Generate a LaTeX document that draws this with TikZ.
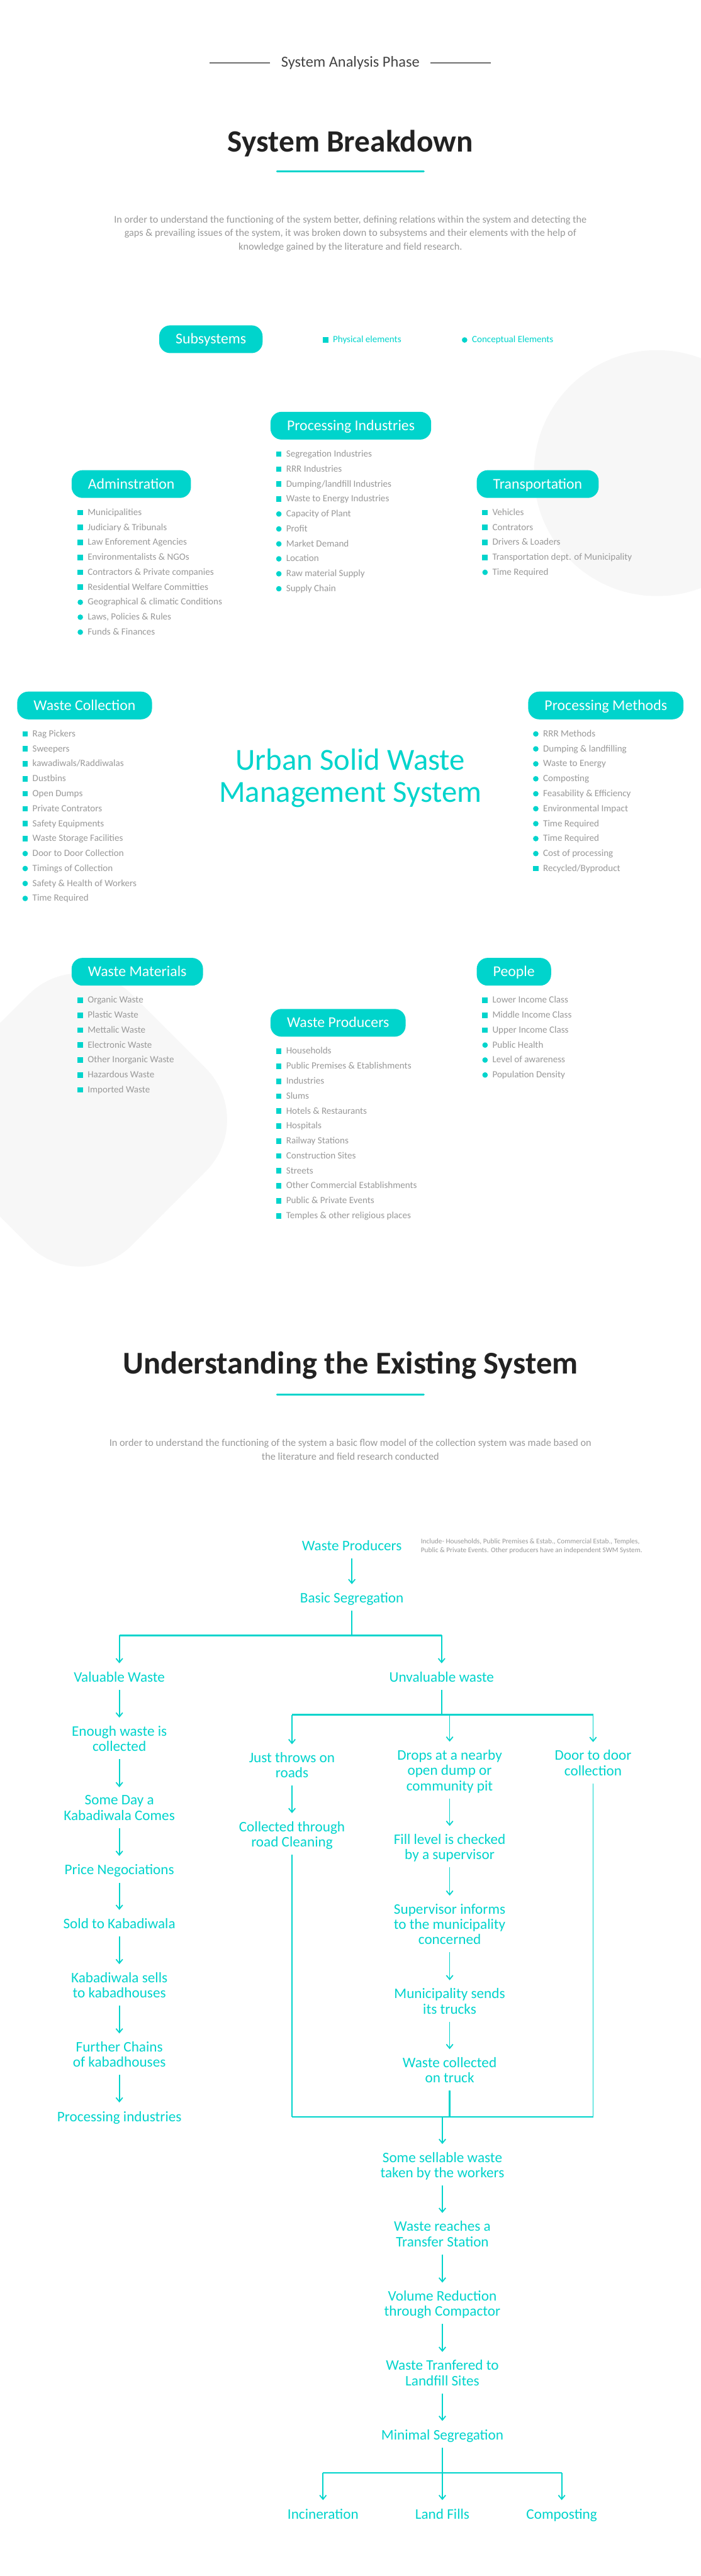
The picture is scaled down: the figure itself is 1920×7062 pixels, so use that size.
\documentclass[tikz,border=0pt]{standalone}
\usepackage{fontspec}
\setmainfont{Carlito}
\usetikzlibrary{arrows.meta,calc}

\definecolor{aqua}{HTML}{00D4CC}
\definecolor{ink}{HTML}{222222}
\definecolor{inkgray}{HTML}{999999}
\definecolor{rulegray}{HTML}{707070}
\definecolor{paper}{HTML}{F7F7F7}

\begin{document}
\begin{tikzpicture}[x=1pt, y=-1pt,
    pill/.style={fill=aqua, rounded corners=30pt, text=white, anchor=west,
      font=\fontsize{41}{44}\selectfont, minimum height=76pt,
      inner xsep=45pt, inner ysep=0pt, text height=32pt, text depth=6pt},
    elem/.style={text=inkgray, anchor=west, inner sep=0pt,
      font=\fontsize{26}{30}\selectfont, text height=20pt, text depth=5pt},
    phys/.style={fill=aqua, minimum size=15pt, inner sep=0pt},
    conc/.style={fill=aqua, circle, minimum size=15pt, inner sep=0pt},
    para/.style={text=inkgray, align=center, inner sep=0pt,
      execute at begin node=\strut, execute at end node=\strut},
    headline/.style={text=ink, anchor=base, inner sep=0pt,
      font=\fontsize{85}{90}\selectfont\bfseries},
    underline/.style={draw=aqua, line width=5pt, line cap=round},
    stage/.style={text=aqua, align=center, inner sep=0pt,
      font=\fontsize{40}{42}\selectfont,
      execute at begin node=\strut, execute at end node=\strut},
    link/.style={draw=aqua, line width=3pt},
    flow/.style={link, shorten <=9pt, shorten >=22pt,
      -{Straight Barb[length=11pt,width=18pt]}},
    branch/.style={link, shorten >=22pt,
      -{Straight Barb[length=11pt,width=18pt]}},
    rail/.style={draw=aqua, line width=4.5pt}]

    \useasboundingbox (0,0) rectangle (1920,7062);
    \fill [white] (0,0) rectangle (1920,7062);

    % Background shapes
    \begin{scope}
        \clip (0,0) rectangle (1920,7062);
        \fill [paper] (1800,1297) circle (337pt);
        \fill [paper, rounded corners=200pt]
            (220,2585) -- (705,3070) -- (220,3555) -- (-265,3070) -- cycle;
    \end{scope}

    % Header
    \node [text=ink!85, inner sep=0pt, font=\fontsize{42}{46}\selectfont]
        (phase) at (960,172) {System Analysis Phase};
    \draw [rulegray, line width=4pt] ([xshift=-30pt]phase.west) -- ++(-166,0);
    \draw [rulegray, line width=4pt] ([xshift=30pt]phase.east) -- ++(166,0);

    \node [headline] (breakdown) at (960,416) {System Breakdown};
    \draw [underline] (759,470) -- (1161,470);

    \node [para, font=\fontsize{28}{37}\selectfont] (intro) at (960,644)
        {In order to understand the functioning of the system better, defining relations within the system and detecting the\\
         gaps \& prevailing issues of the system, it was broken down to subsystems and their elements with the help of\\
         knowledge gained by the literature and field research.};

    % Legend
    \node [pill] (subsys) at (436,930) {Subsystems};
    \node [phys] (legphys) at (892,932) {};
    \node [elem, text=aqua] (legphystxt) at (912,932) {Physical elements};
    \node [conc] (legconc) at (1273,932) {};
    \node [elem, text=aqua] (legconctxt) at (1293,932) {Conceptual Elements};

    % Subsystems
    \node [pill] (pind) at (741,1167) {Processing Industries};
    \node [pill] (admin) at (196,1327) {Adminstration};
    \node [pill] (transp) at (1306,1327) {Transportation};
    \node [pill] (wcol) at (47,1934) {Waste Collection};
    \node [pill] (pmeth) at (1447,1934) {Processing Methods};
    \node [pill] (wmat) at (196,2664) {Waste Materials};
    \node [pill] (people) at (1306,2664) {People};
    \node [pill] (wprod) at (741,2804) {Waste Producers};

    \node [text=aqua, align=center, inner sep=0pt,
        font=\fontsize{84}{87}\selectfont,
        execute at begin node=\strut, execute at end node=\strut]
        (uswm) at (960,2139) {Urban Solid Waste\\Management System};

    % Elements
    \foreach \kind/\txt [count=\i] in {phys/Municipalities, phys/Judiciary \& Tribunals,
        phys/Law Enforement Agencies, phys/Environmentalists \& NGOs,
        phys/Contractors \& Private companies, phys/Residential Welfare Committies,
        conc/Geographical \& climatic Conditions, conc/{Laws, Policies \& Rules},
        conc/Funds \& Finances}
        {\node [\kind] (adm-b\i) at (220,{1364+41*\i}) {};
         \node [elem] (adm-\i) at (240,{1364+41*\i}) {\txt};}

    \foreach \kind/\txt [count=\i] in {phys/Segregation Industries, phys/RRR Industries,
        phys/{Dumping/landfill Industries}, phys/Waste to Energy Industries,
        conc/Capacity of Plant, conc/Profit, conc/Market Demand, conc/Location,
        conc/Raw material Supply, conc/Supply Chain}
        {\node [\kind] (pin-b\i) at (764,{1204+41*\i}) {};
         \node [elem] (pin-\i) at (784,{1204+41*\i}) {\txt};}

    \foreach \kind/\txt [count=\i] in {phys/Vehicles, phys/Contrators,
        phys/Drivers \& Loaders, phys/Transportation dept. of Municipality,
        conc/Time Required}
        {\node [\kind] (trn-b\i) at (1329,{1364+41*\i}) {};
         \node [elem] (trn-\i) at (1349,{1364+41*\i}) {\txt};}

    \foreach \kind/\txt [count=\i] in {phys/Rag Pickers, phys/Sweepers,
        phys/{kawadiwals/Raddiwalas}, phys/Dustbins, phys/Open Dumps,
        phys/Private Contrators, phys/Safety Equipments, phys/Waste Storage Facilities,
        conc/Door to Door Collection, conc/Timings of Collection,
        conc/Safety \& Health of Workers, conc/Time Required}
        {\node [\kind] (wcl-b\i) at (69,{1971+41*\i}) {};
         \node [elem] (wcl-\i) at (89,{1971+41*\i}) {\txt};}

    \foreach \kind/\txt [count=\i] in {conc/RRR Methods, conc/Dumping \& landfilling,
        conc/Waste to Energy, conc/Composting, conc/Feasability \& Efficiency,
        conc/Environmental Impact, conc/Time Required, conc/Time Required,
        conc/Cost of processing, phys/{Recycled/Byproduct}}
        {\node [\kind] (pmt-b\i) at (1468,{1971+41*\i}) {};
         \node [elem] (pmt-\i) at (1488,{1971+41*\i}) {\txt};}

    \foreach \kind/\txt [count=\i] in {phys/Organic Waste, phys/Plastic Waste,
        phys/Mettalic Waste, phys/Electronic Waste, phys/Other Inorganic Waste,
        phys/Hazardous Waste, phys/Imported Waste}
        {\node [\kind] (wmt-b\i) at (220,{2701+41*\i}) {};
         \node [elem] (wmt-\i) at (240,{2701+41*\i}) {\txt};}

    \foreach \kind/\txt [count=\i] in {phys/Lower Income Class, phys/Middle Income Class,
        phys/Upper Income Class, conc/Public Health, conc/Level of awareness,
        conc/Population Density}
        {\node [\kind] (ppl-b\i) at (1329,{2701+41*\i}) {};
         \node [elem] (ppl-\i) at (1349,{2701+41*\i}) {\txt};}

    \foreach \kind/\txt [count=\i] in {phys/Households, phys/Public Premises \& Etablishments,
        phys/Industries, phys/Slums, phys/Hotels \& Restaurants, phys/Hospitals,
        phys/Railway Stations, phys/Construction Sites, phys/Streets,
        phys/Other Commercial Establishments, phys/Public \& Private Events,
        phys/Temples \& other religious places}
        {\node [\kind] (wpr-b\i) at (764,{2841+41*\i}) {};
         \node [elem] (wpr-\i) at (784,{2841+41*\i}) {\txt};}

    % Existing system
    \node [headline, font=\fontsize{87}{90}\selectfont\bfseries] (existing) at (960,3767)
        {Understanding the Existing System};
    \draw [underline] (759,3823) -- (1161,3823);

    \node [para, font=\fontsize{28}{38}\selectfont] (flowintro) at (960,3980)
        {In order to understand the functioning of the system a basic flow model of the collection system was made based on\\
         the literature and field research conducted};

    % Stages
    \node [stage] (wp) at (964,4242) {Waste Producers};
    \node [text=inkgray, align=left, anchor=west, inner sep=0pt,
        font=\fontsize{19.5}{24}\selectfont] (wpnote) at (1153,4238)
        {Include- Households, Public Premises \& Estab., Commercial Estab., Temples,\\
         Public \& Private Events. Other producers have an independent SWM System.};
    \node [stage] (bs) at (964,4386) {Basic Segregation};

    \node [stage] (val) at (327,4603) {Valuable Waste};
    \node [stage] (enough) at (327,4772) {Enough waste is\\collected};
    \node [stage] (someday) at (327,4962) {Some Day a\\Kabadiwala Comes};
    \node [stage] (price) at (327,5131) {Price Negociations};
    \node [stage] (sold) at (327,5279) {Sold to Kabadiwala};
    \node [stage] (sells) at (327,5448) {Kabadiwala sells\\to kabadhouses};
    \node [stage] (chains) at (327,5638) {Further Chains\\of kabadhouses};
    \node [stage] (procind) at (327,5807) {Processing industries};

    \node [stage] (unval) at (1210,4603) {Unvaluable waste};
    \node [stage] (throws) at (800,4845) {Just throws on\\roads};
    \node [stage] (road) at (800,5034) {Collected through\\road Cleaning};
    \node [stage] (drops) at (1232,4859) {Drops at a nearby\\open dump or\\community pit};
    \node [stage] (fill) at (1232,5069) {Fill level is checked\\by a supervisor};
    \node [stage] (informs) at (1232,5281) {Supervisor informs\\to the municipality\\concerned};
    \node [stage] (sends) at (1232,5492) {Municipality sends\\its trucks};
    \node [stage] (truck) at (1232,5681) {Waste collected\\on truck};
    \node [stage] (door) at (1625,4839) {Door to door\\collection};

    \node [stage] (sellable) at (1212,5941) {Some sellable waste\\taken by the workers};
    \node [stage] (transfer) at (1212,6130) {Waste reaches a\\Transfer Station};
    \node [stage] (volume) at (1212,6321) {Volume Reduction\\through Compactor};
    \node [stage] (landfill) at (1212,6511) {Waste Tranfered to\\Landfill Sites};
    \node [stage] (minimal) at (1212,6680) {Minimal Segregation};
    \node [stage] (incin) at (885,6897) {Incineration};
    \node [stage] (fills) at (1212,6897) {Land Fills};
    \node [stage] (compost) at (1539,6897) {Composting};

    % Junctions
    \coordinate (sb) at (964,4483);
    \coordinate (ub) at (1210,4701);
    \coordinate (cb) at (1212,5803);
    \coordinate (mb) at (1212,6779);

    % Connectors
    \draw [flow] (wp) -- (bs);
    \draw [link, shorten <=9pt] (bs) -- (sb);
    \draw [rail] (sb -| val) -- (sb -| unval);
    \draw [branch] (sb -| val) -- (val);
    \draw [branch] (sb -| unval) -- (unval);

    \draw [flow] (val) -- (enough);
    \draw [flow] (enough) -- (someday);
    \draw [flow] (someday) -- (price);
    \draw [flow] (price) -- (sold);
    \draw [flow] (sold) -- (sells);
    \draw [flow] (sells) -- (chains);
    \draw [flow] (chains) -- (procind);

    \draw [link, shorten <=9pt] (unval) -- (ub);
    \draw [rail] (ub -| throws) -- (ub -| door);
    \draw [branch] (ub -| throws) -- (throws);
    \draw [branch] (ub -| drops) -- (drops);
    \draw [branch] (ub -| door) -- (door);

    \draw [flow] (throws) -- (road);
    \draw [flow] (drops) -- (fill);
    \draw [flow] (fill) -- (informs);
    \draw [flow] (informs) -- (sends);
    \draw [flow] (sends) -- (truck);

    \draw [link, shorten <=9pt] (road) -- (road |- cb);
    \draw [link, shorten <=9pt] (door) -- (door |- cb);
    \draw [link, line width=4pt, shorten <=9pt] (truck) -- (truck |- cb);
    \draw [rail] (road |- cb) -- (door |- cb);
    \draw [branch] (cb) -- (sellable);

    \draw [flow] (sellable) -- (transfer);
    \draw [flow] (transfer) -- (volume);
    \draw [flow] (volume) -- (landfill);
    \draw [flow] (landfill) -- (minimal);

    \draw [link, shorten <=9pt] (minimal) -- (mb);
    \draw [rail] (mb -| incin) -- (mb -| compost);
    \draw [branch] (mb -| incin) -- (incin);
    \draw [branch] (mb) -- (fills);
    \draw [branch] (mb -| compost) -- (compost);
\end{tikzpicture}
\end{document}
